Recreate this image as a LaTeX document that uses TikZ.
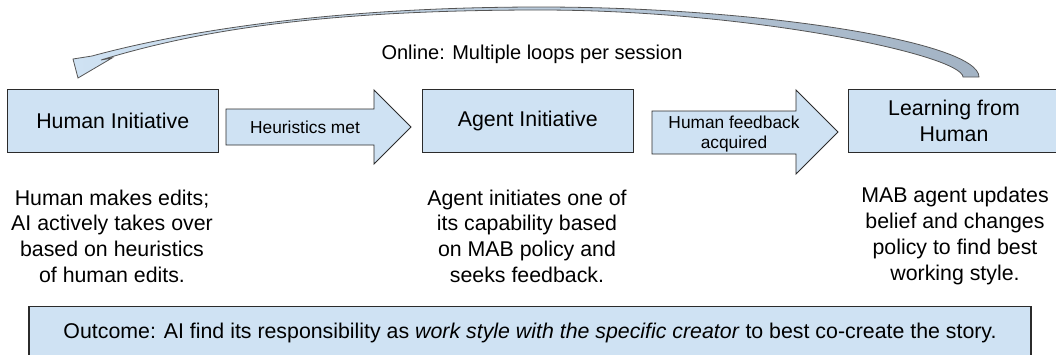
\documentclass[tikz,border=0pt]{standalone}
\usepackage{fontspec}
\setmainfont{Liberation Sans}
\definecolor{boxblue}{HTML}{CFE2F3}
\definecolor{arrowdark}{HTML}{A3B3C4}
\definecolor{edge}{HTML}{2B2B2B}
\begin{document}
\begin{tikzpicture}[x=0.75pt,y=-0.75pt,
  stagebox/.style={draw=edge, line width=0.8pt, fill=boxblue, inner sep=0pt,
    minimum width=158pt, minimum height=47pt, align=center,
    font=\fontsize{16}{19.3}\selectfont},
  blockarrow/.style={draw=edge, line width=0.7pt, fill=boxblue, line join=miter},
  arrowlabel/.style={inner sep=0pt, align=center, font=\fontsize{13}{15.5}\selectfont},
  desc/.style={inner sep=0pt, align=center, font=\fontsize{16}{19.3}\selectfont},
  outcomebox/.style={draw=edge, line width=0.8pt, fill=boxblue, inner sep=0pt,
    minimum width=751.5pt, minimum height=38.5pt, font=\fontsize{16}{19.3}\selectfont}]
\useasboundingbox (0,0) rectangle (1056,354);
\clip (0,0) rectangle (1056,354);

% loop arrow
\shadedraw[left color=boxblue, right color=arrowdark, draw=edge!80, line width=0.6pt, line join=miter]
  (979,77) .. controls (979,42) and (760,7) .. (540,7)
  .. controls (330,7) and (180,32) .. (92,56)
  -- (73,59) -- (78,78) -- (112,58) -- (101,60)
  .. controls (205,28) and (335,10) .. (540,10)
  .. controls (750,10) and (962,55) .. (963,77) -- cycle;
\node[inner sep=0pt, font=\fontsize{15}{18}\selectfont] (online) at (532,54) {Online: Multiple loops per session};

% stage boxes
\node[stagebox] (human) at (112.75,121.25) {Human Initiative};
\node[stagebox] (agent) at (527.8,121.25) {Agent Initiative};
\node[stagebox] (learn) at (954,121) {Learning from\\Human};

% block arrows
\draw[blockarrow] (226,109) -- (374,109) -- (374,90) -- (411,127) -- (374,164) -- (374,145) -- (226,145) -- cycle;
\node[arrowlabel] (heur) at (305,127) {Heuristics met};
\draw[blockarrow] (652,111) -- (796,111) -- (796,90) -- (838,132) -- (796,174) -- (796,154) -- (652,154) -- cycle;
\node[arrowlabel] (fb) at (734,134) {Human feedback\\acquired};

% descriptions
\node[desc] (hdesc) at (112,236) {Human makes edits;\\AI actively takes over\\based on heuristics\\of human edits.};
\node[desc] (adesc) at (527,236) {Agent initiates one of\\its capability based\\on MAB policy and\\seeks feedback.};
\node[desc] (ldesc) at (955,236) {MAB agent updates\\belief and changes\\policy to find best\\working style.};

% outcome
\node[outcomebox] (outcome) at (530,332.5) {Outcome: AI find its responsibility as \textit{work style with the specific creator} to best co-create the story.};
\end{tikzpicture}
\end{document}
